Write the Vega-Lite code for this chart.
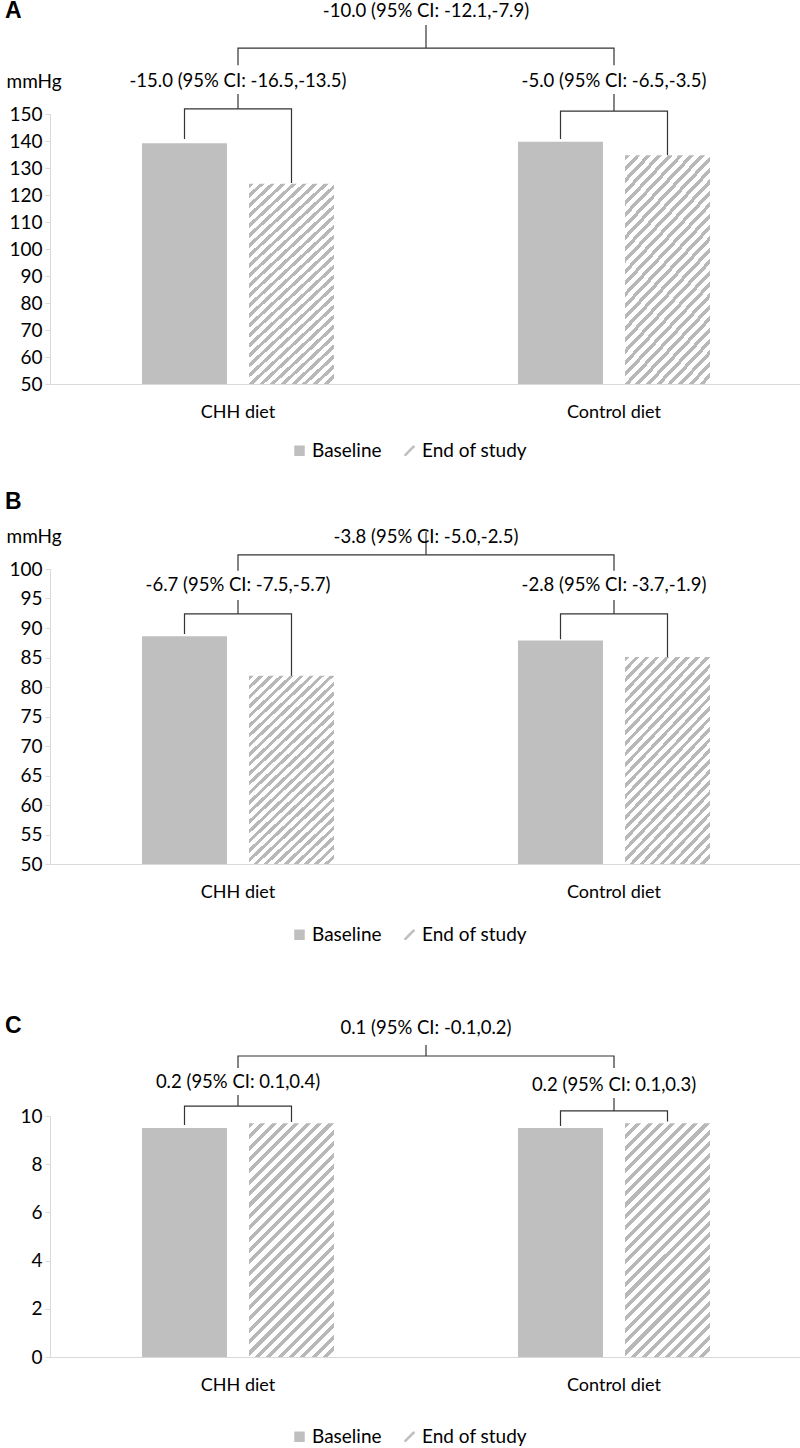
{
  "$schema": "https://vega.github.io/schema/vega-lite/v6.json",
  "padding": {"left": 5, "top": 0, "right": 0, "bottom": 0},
  "config": {
    "view": {"stroke": null},
    "font": "Lato",
    "axis": {"labelFont": "Lato", "labelFontSize": 19, "labelColor": "#000000", "domainColor": "#d9d9d9", "tickColor": "#d9d9d9", "grid": false, "titleFont": "Lato", "titleFontSize": 19, "titleFontWeight": "normal", "titleColor": "#000000", "labelOverlap": false},
    "axisY": {"tickSize": 5, "labelPadding": 3, "titleAngle": 0, "titleAlign": "left", "titleBaseline": "middle", "titleX": -44, "titleY": -33, "tickCount": 30, "format": "d"},
    "axisX": {"ticks": false, "tickSize": 0, "labelPadding": 19, "labelFontSize": 18, "labelAngle": 0, "labelBaseline": "top"},
    "legend": {"orient": "none", "direction": "horizontal", "labelFont": "Lato", "labelFontSize": 19, "labelColor": "#000000", "symbolSize": 110, "labelOffset": 3, "columnPadding": 18, "padding": 0, "symbolStrokeWidth": 0, "symbolOpacity": 1},
    "title": {"font": "Liberation Sans", "fontSize": 23, "fontWeight": "bold", "anchor": "start", "frame": "group", "offset": 0, "color": "#000000"},
    "text": {"font": "Lato", "fontSize": 18.5, "color": "#000000"}
  },
  "resolve": {"scale": {"fill": "independent"}, "legend": {"fill": "independent"}},
  "spacing": 70,
  "vconcat": [
    {
      "resolve": {"scale": {"fill": "independent"}, "legend": {"fill": "independent"}},
      "spacing": 30,
      "vconcat": [
        {
          "width": 752, "height": 270,
          "title": {"text": "A", "dx": -45, "dy": 25},
          "layer": [
            {
              "data": {"values": [
                {"group": "CHH diet", "period": "Baseline", "v": 139.2},
                {"group": "CHH diet", "period": "End of study", "v": 124.2},
                {"group": "Control diet", "period": "Baseline", "v": 139.7},
                {"group": "Control diet", "period": "End of study", "v": 134.7}
              ]},
              "mark": {"type": "bar", "opacity": 0},
              "encoding": {
                "x": {"field": "group", "type": "nominal", "title": null, "sort": ["CHH diet", "Control diet"], "scale": {"paddingInner": 0, "paddingOuter": 0}},
                "xOffset": {"field": "period", "type": "nominal", "sort": ["Baseline", "End of study"], "scale": {"paddingInner": 0.206, "paddingOuter": 0.86}},
                "y": {"field": "v", "type": "quantitative", "scale": {"domain": [50, 150], "nice": false, "zero": false}, "axis": {"values": [50, 60, 70, 80, 90, 100, 110, 120, 130, 140, 150], "tickCount": 30, "format": "d", "title": "mmHg", "labelOverlap": false}},
                "y2": {"datum": 50},
                "fill": {"field": "period", "type": "nominal", "scale": {"domain": ["Baseline", "End of study"], "range": ["#bfbfbf", "#bfbfbf"]},
                  "legend": {"title": null, "orient": "none", "legendX": 240, "legendY": 327, "encode": {"symbols": {"update": {"fill": {"value": "#bfbfbf"}, "opacity": {"value": 1}, "shape": {"signal": "datum.value === 'Baseline' ? 'square' : 'M-1,0.65L0.65,-1L1,-1L1,-0.65L-0.65,1L-1,1Z'"}}}}}}
              }
            },
            {
              "data": {"values": [
                {"group": "CHH diet", "period": "Baseline", "v": 139.2},
                {"group": "CHH diet", "period": "End of study", "v": 124.2},
                {"group": "Control diet", "period": "Baseline", "v": 139.7},
                {"group": "Control diet", "period": "End of study", "v": 134.7}
              ]},
              "mark": {"type": "bar"},
              "encoding": {
                "x": {"field": "group", "type": "nominal"},
                "xOffset": {"field": "period", "type": "nominal"},
                "y": {"field": "v", "type": "quantitative"},
                "y2": {"datum": 50},
                "fill": {"condition": {"test": "datum.period === 'Baseline'", "value": "#bfbfbf"}, "value": {"gradient": "linear", "x1": 0, "y1": 0, "x2": 0.4771, "y2": 1.2068, "stops": [
{"offset":0,"color":"#b8b8b8"},{"offset":0.0161,"color":"#b8b8b8"},{"offset":0.0161,"color":"#ffffff"},{"offset":0.0357,"color":"#ffffff"},
{"offset":0.0357,"color":"#b8b8b8"},{"offset":0.0518,"color":"#b8b8b8"},{"offset":0.0518,"color":"#ffffff"},{"offset":0.0714,"color":"#ffffff"},
{"offset":0.0714,"color":"#b8b8b8"},{"offset":0.0875,"color":"#b8b8b8"},{"offset":0.0875,"color":"#ffffff"},{"offset":0.1071,"color":"#ffffff"},
{"offset":0.1071,"color":"#b8b8b8"},{"offset":0.1232,"color":"#b8b8b8"},{"offset":0.1232,"color":"#ffffff"},{"offset":0.1429,"color":"#ffffff"},
{"offset":0.1429,"color":"#b8b8b8"},{"offset":0.1589,"color":"#b8b8b8"},{"offset":0.1589,"color":"#ffffff"},{"offset":0.1786,"color":"#ffffff"},
{"offset":0.1786,"color":"#b8b8b8"},{"offset":0.1946,"color":"#b8b8b8"},{"offset":0.1946,"color":"#ffffff"},{"offset":0.2143,"color":"#ffffff"},
{"offset":0.2143,"color":"#b8b8b8"},{"offset":0.2304,"color":"#b8b8b8"},{"offset":0.2304,"color":"#ffffff"},{"offset":0.25,"color":"#ffffff"},
{"offset":0.25,"color":"#b8b8b8"},{"offset":0.2661,"color":"#b8b8b8"},{"offset":0.2661,"color":"#ffffff"},{"offset":0.2857,"color":"#ffffff"},
{"offset":0.2857,"color":"#b8b8b8"},{"offset":0.3018,"color":"#b8b8b8"},{"offset":0.3018,"color":"#ffffff"},{"offset":0.3214,"color":"#ffffff"},
{"offset":0.3214,"color":"#b8b8b8"},{"offset":0.3375,"color":"#b8b8b8"},{"offset":0.3375,"color":"#ffffff"},{"offset":0.3571,"color":"#ffffff"},
{"offset":0.3571,"color":"#b8b8b8"},{"offset":0.3732,"color":"#b8b8b8"},{"offset":0.3732,"color":"#ffffff"},{"offset":0.3929,"color":"#ffffff"},
{"offset":0.3929,"color":"#b8b8b8"},{"offset":0.4089,"color":"#b8b8b8"},{"offset":0.4089,"color":"#ffffff"},{"offset":0.4286,"color":"#ffffff"},
{"offset":0.4286,"color":"#b8b8b8"},{"offset":0.4446,"color":"#b8b8b8"},{"offset":0.4446,"color":"#ffffff"},{"offset":0.4643,"color":"#ffffff"},
{"offset":0.4643,"color":"#b8b8b8"},{"offset":0.4804,"color":"#b8b8b8"},{"offset":0.4804,"color":"#ffffff"},{"offset":0.5,"color":"#ffffff"},
{"offset":0.5,"color":"#b8b8b8"},{"offset":0.5161,"color":"#b8b8b8"},{"offset":0.5161,"color":"#ffffff"},{"offset":0.5357,"color":"#ffffff"},
{"offset":0.5357,"color":"#b8b8b8"},{"offset":0.5518,"color":"#b8b8b8"},{"offset":0.5518,"color":"#ffffff"},{"offset":0.5714,"color":"#ffffff"},
{"offset":0.5714,"color":"#b8b8b8"},{"offset":0.5875,"color":"#b8b8b8"},{"offset":0.5875,"color":"#ffffff"},{"offset":0.6071,"color":"#ffffff"},
{"offset":0.6071,"color":"#b8b8b8"},{"offset":0.6232,"color":"#b8b8b8"},{"offset":0.6232,"color":"#ffffff"},{"offset":0.6429,"color":"#ffffff"},
{"offset":0.6429,"color":"#b8b8b8"},{"offset":0.6589,"color":"#b8b8b8"},{"offset":0.6589,"color":"#ffffff"},{"offset":0.6786,"color":"#ffffff"},
{"offset":0.6786,"color":"#b8b8b8"},{"offset":0.6946,"color":"#b8b8b8"},{"offset":0.6946,"color":"#ffffff"},{"offset":0.7143,"color":"#ffffff"},
{"offset":0.7143,"color":"#b8b8b8"},{"offset":0.7304,"color":"#b8b8b8"},{"offset":0.7304,"color":"#ffffff"},{"offset":0.75,"color":"#ffffff"},
{"offset":0.75,"color":"#b8b8b8"},{"offset":0.7661,"color":"#b8b8b8"},{"offset":0.7661,"color":"#ffffff"},{"offset":0.7857,"color":"#ffffff"},
{"offset":0.7857,"color":"#b8b8b8"},{"offset":0.8018,"color":"#b8b8b8"},{"offset":0.8018,"color":"#ffffff"},{"offset":0.8214,"color":"#ffffff"},
{"offset":0.8214,"color":"#b8b8b8"},{"offset":0.8375,"color":"#b8b8b8"},{"offset":0.8375,"color":"#ffffff"},{"offset":0.8571,"color":"#ffffff"},
{"offset":0.8571,"color":"#b8b8b8"},{"offset":0.8732,"color":"#b8b8b8"},{"offset":0.8732,"color":"#ffffff"},{"offset":0.8929,"color":"#ffffff"},
{"offset":0.8929,"color":"#b8b8b8"},{"offset":0.9089,"color":"#b8b8b8"},{"offset":0.9089,"color":"#ffffff"},{"offset":0.9286,"color":"#ffffff"},
{"offset":0.9286,"color":"#b8b8b8"},{"offset":0.9446,"color":"#b8b8b8"},{"offset":0.9446,"color":"#ffffff"},{"offset":0.9643,"color":"#ffffff"},
{"offset":0.9643,"color":"#b8b8b8"},{"offset":0.9804,"color":"#b8b8b8"},{"offset":0.9804,"color":"#ffffff"},{"offset":1,"color":"#ffffff"}
                ]}}
              }
            },
            {
              "data": {"values": [
                {"id": "CHH", "group": "CHH diet", "period": "Baseline", "v": 140.7, "o": 1},
                {"id": "CHH", "group": "CHH diet", "period": "Baseline", "v": 151.9, "o": 2},
                {"id": "CHH", "group": "CHH diet", "period": "End of study", "v": 151.9, "o": 3},
                {"id": "CHH", "group": "CHH diet", "period": "End of study", "v": 124.4, "o": 4},
                {"id": "Control", "group": "Control diet", "period": "Baseline", "v": 140.7, "o": 1},
                {"id": "Control", "group": "Control diet", "period": "Baseline", "v": 151.1, "o": 2},
                {"id": "Control", "group": "Control diet", "period": "End of study", "v": 151.1, "o": 3},
                {"id": "Control", "group": "Control diet", "period": "End of study", "v": 134.7, "o": 4}
              ]},
              "mark": {"type": "line", "color": "#333333", "strokeWidth": 1.2},
              "encoding": {
                "x": {"field": "group", "type": "nominal"},
                "xOffset": {"field": "period", "type": "nominal"},
                "y": {"field": "v", "type": "quantitative"},
                "detail": {"field": "id"},
                "order": {"field": "o", "type": "quantitative"}
              }
            },
            {
              "data": {"values": [
                {"group": "CHH diet", "v": 168.1, "o": 1},
                {"group": "CHH diet", "v": 174.4, "o": 2},
                {"group": "Control diet", "v": 174.4, "o": 3},
                {"group": "Control diet", "v": 168.1, "o": 4}
              ]},
              "mark": {"type": "line", "color": "#333333", "strokeWidth": 1.2},
              "encoding": {
                "x": {"field": "group", "type": "nominal"},
                "y": {"field": "v", "type": "quantitative"},
                "order": {"field": "o", "type": "quantitative"}
              }
            },
            {
              "data": {"values": [
                {"group": "CHH diet", "v": 151.9, "v2": 157.4},
                {"group": "Control diet", "v": 151.1, "v2": 157.4}
              ]},
              "mark": {"type": "rule", "color": "#333333", "strokeWidth": 1.2},
              "encoding": {
                "x": {"field": "group", "type": "nominal"},
                "y": {"field": "v", "type": "quantitative"},
                "y2": {"field": "v2"}
              }
            },
            {
              "data": {"values": [
                {"group": "CHH diet", "v": 174.4, "v2": 183.0}
              ]},
              "mark": {"type": "rule", "color": "#333333", "strokeWidth": 1.2},
              "encoding": {
                "x": {"field": "group", "type": "nominal", "bandPosition": 1},
                "y": {"field": "v", "type": "quantitative"},
                "y2": {"field": "v2"}
              }
            },
            {
              "data": {"values": [
                {"group": "CHH diet", "v": 162.2, "label": "-15.0 (95% CI: -16.5,-13.5)"},
                {"group": "Control diet", "v": 162.2, "label": "-5.0 (95% CI: -6.5,-3.5)"}
              ]},
              "mark": {"type": "text"},
              "encoding": {
                "x": {"field": "group", "type": "nominal"},
                "y": {"field": "v", "type": "quantitative"},
                "text": {"field": "label"}
              }
            },
            {
              "data": {"values": [
                {"group": "CHH diet", "v": 188.1, "label": "-10.0 (95% CI: -12.1,-7.9)"}
              ]},
              "mark": {"type": "text"},
              "encoding": {
                "x": {"field": "group", "type": "nominal", "bandPosition": 1},
                "y": {"field": "v", "type": "quantitative"},
                "text": {"field": "label"}
              }
            }
          ]
        },
        {
          "width": 752, "height": 295,
          "title": {"text": "B", "dx": -45, "dy": -9},
          "layer": [
            {
              "data": {"values": [
                {"group": "CHH diet", "period": "Baseline", "v": 88.6},
                {"group": "CHH diet", "period": "End of study", "v": 81.9},
                {"group": "Control diet", "period": "Baseline", "v": 87.9},
                {"group": "Control diet", "period": "End of study", "v": 85.1}
              ]},
              "mark": {"type": "bar", "opacity": 0},
              "encoding": {
                "x": {"field": "group", "type": "nominal", "title": null, "sort": ["CHH diet", "Control diet"], "scale": {"paddingInner": 0, "paddingOuter": 0}},
                "xOffset": {"field": "period", "type": "nominal", "sort": ["Baseline", "End of study"], "scale": {"paddingInner": 0.206, "paddingOuter": 0.86}},
                "y": {"field": "v", "type": "quantitative", "scale": {"domain": [50, 100], "nice": false, "zero": false}, "axis": {"values": [50, 55, 60, 65, 70, 75, 80, 85, 90, 95, 100], "tickCount": 30, "format": "d", "title": "mmHg", "labelOverlap": false}},
                "y2": {"datum": 50},
                "fill": {"field": "period", "type": "nominal", "scale": {"domain": ["Baseline", "End of study"], "range": ["#bfbfbf", "#bfbfbf"]},
                  "legend": {"title": null, "orient": "none", "legendX": 240, "legendY": 356, "encode": {"symbols": {"update": {"fill": {"value": "#bfbfbf"}, "opacity": {"value": 1}, "shape": {"signal": "datum.value === 'Baseline' ? 'square' : 'M-1,0.65L0.65,-1L1,-1L1,-0.65L-0.65,1L-1,1Z'"}}}}}}
              }
            },
            {
              "data": {"values": [
                {"group": "CHH diet", "period": "Baseline", "v": 88.6},
                {"group": "CHH diet", "period": "End of study", "v": 81.9},
                {"group": "Control diet", "period": "Baseline", "v": 87.9},
                {"group": "Control diet", "period": "End of study", "v": 85.1}
              ]},
              "mark": {"type": "bar"},
              "encoding": {
                "x": {"field": "group", "type": "nominal"},
                "xOffset": {"field": "period", "type": "nominal"},
                "y": {"field": "v", "type": "quantitative"},
                "y2": {"datum": 50},
                "fill": {"condition": {"test": "datum.period === 'Baseline'", "value": "#bfbfbf"}, "value": {"gradient": "linear", "x1": 0, "y1": 0, "x2": 0.518, "y2": 1.2068, "stops": [
{"offset":0,"color":"#b8b8b8"},{"offset":0.0161,"color":"#b8b8b8"},{"offset":0.0161,"color":"#ffffff"},{"offset":0.0357,"color":"#ffffff"},
{"offset":0.0357,"color":"#b8b8b8"},{"offset":0.0518,"color":"#b8b8b8"},{"offset":0.0518,"color":"#ffffff"},{"offset":0.0714,"color":"#ffffff"},
{"offset":0.0714,"color":"#b8b8b8"},{"offset":0.0875,"color":"#b8b8b8"},{"offset":0.0875,"color":"#ffffff"},{"offset":0.1071,"color":"#ffffff"},
{"offset":0.1071,"color":"#b8b8b8"},{"offset":0.1232,"color":"#b8b8b8"},{"offset":0.1232,"color":"#ffffff"},{"offset":0.1429,"color":"#ffffff"},
{"offset":0.1429,"color":"#b8b8b8"},{"offset":0.1589,"color":"#b8b8b8"},{"offset":0.1589,"color":"#ffffff"},{"offset":0.1786,"color":"#ffffff"},
{"offset":0.1786,"color":"#b8b8b8"},{"offset":0.1946,"color":"#b8b8b8"},{"offset":0.1946,"color":"#ffffff"},{"offset":0.2143,"color":"#ffffff"},
{"offset":0.2143,"color":"#b8b8b8"},{"offset":0.2304,"color":"#b8b8b8"},{"offset":0.2304,"color":"#ffffff"},{"offset":0.25,"color":"#ffffff"},
{"offset":0.25,"color":"#b8b8b8"},{"offset":0.2661,"color":"#b8b8b8"},{"offset":0.2661,"color":"#ffffff"},{"offset":0.2857,"color":"#ffffff"},
{"offset":0.2857,"color":"#b8b8b8"},{"offset":0.3018,"color":"#b8b8b8"},{"offset":0.3018,"color":"#ffffff"},{"offset":0.3214,"color":"#ffffff"},
{"offset":0.3214,"color":"#b8b8b8"},{"offset":0.3375,"color":"#b8b8b8"},{"offset":0.3375,"color":"#ffffff"},{"offset":0.3571,"color":"#ffffff"},
{"offset":0.3571,"color":"#b8b8b8"},{"offset":0.3732,"color":"#b8b8b8"},{"offset":0.3732,"color":"#ffffff"},{"offset":0.3929,"color":"#ffffff"},
{"offset":0.3929,"color":"#b8b8b8"},{"offset":0.4089,"color":"#b8b8b8"},{"offset":0.4089,"color":"#ffffff"},{"offset":0.4286,"color":"#ffffff"},
{"offset":0.4286,"color":"#b8b8b8"},{"offset":0.4446,"color":"#b8b8b8"},{"offset":0.4446,"color":"#ffffff"},{"offset":0.4643,"color":"#ffffff"},
{"offset":0.4643,"color":"#b8b8b8"},{"offset":0.4804,"color":"#b8b8b8"},{"offset":0.4804,"color":"#ffffff"},{"offset":0.5,"color":"#ffffff"},
{"offset":0.5,"color":"#b8b8b8"},{"offset":0.5161,"color":"#b8b8b8"},{"offset":0.5161,"color":"#ffffff"},{"offset":0.5357,"color":"#ffffff"},
{"offset":0.5357,"color":"#b8b8b8"},{"offset":0.5518,"color":"#b8b8b8"},{"offset":0.5518,"color":"#ffffff"},{"offset":0.5714,"color":"#ffffff"},
{"offset":0.5714,"color":"#b8b8b8"},{"offset":0.5875,"color":"#b8b8b8"},{"offset":0.5875,"color":"#ffffff"},{"offset":0.6071,"color":"#ffffff"},
{"offset":0.6071,"color":"#b8b8b8"},{"offset":0.6232,"color":"#b8b8b8"},{"offset":0.6232,"color":"#ffffff"},{"offset":0.6429,"color":"#ffffff"},
{"offset":0.6429,"color":"#b8b8b8"},{"offset":0.6589,"color":"#b8b8b8"},{"offset":0.6589,"color":"#ffffff"},{"offset":0.6786,"color":"#ffffff"},
{"offset":0.6786,"color":"#b8b8b8"},{"offset":0.6946,"color":"#b8b8b8"},{"offset":0.6946,"color":"#ffffff"},{"offset":0.7143,"color":"#ffffff"},
{"offset":0.7143,"color":"#b8b8b8"},{"offset":0.7304,"color":"#b8b8b8"},{"offset":0.7304,"color":"#ffffff"},{"offset":0.75,"color":"#ffffff"},
{"offset":0.75,"color":"#b8b8b8"},{"offset":0.7661,"color":"#b8b8b8"},{"offset":0.7661,"color":"#ffffff"},{"offset":0.7857,"color":"#ffffff"},
{"offset":0.7857,"color":"#b8b8b8"},{"offset":0.8018,"color":"#b8b8b8"},{"offset":0.8018,"color":"#ffffff"},{"offset":0.8214,"color":"#ffffff"},
{"offset":0.8214,"color":"#b8b8b8"},{"offset":0.8375,"color":"#b8b8b8"},{"offset":0.8375,"color":"#ffffff"},{"offset":0.8571,"color":"#ffffff"},
{"offset":0.8571,"color":"#b8b8b8"},{"offset":0.8732,"color":"#b8b8b8"},{"offset":0.8732,"color":"#ffffff"},{"offset":0.8929,"color":"#ffffff"},
{"offset":0.8929,"color":"#b8b8b8"},{"offset":0.9089,"color":"#b8b8b8"},{"offset":0.9089,"color":"#ffffff"},{"offset":0.9286,"color":"#ffffff"},
{"offset":0.9286,"color":"#b8b8b8"},{"offset":0.9446,"color":"#b8b8b8"},{"offset":0.9446,"color":"#ffffff"},{"offset":0.9643,"color":"#ffffff"},
{"offset":0.9643,"color":"#b8b8b8"},{"offset":0.9804,"color":"#b8b8b8"},{"offset":0.9804,"color":"#ffffff"},{"offset":1,"color":"#ffffff"}
                ]}}
              }
            },
            {
              "data": {"values": [
                {"id": "CHH", "group": "CHH diet", "period": "Baseline", "v": 89.0, "o": 1},
                {"id": "CHH", "group": "CHH diet", "period": "Baseline", "v": 92.4, "o": 2},
                {"id": "CHH", "group": "CHH diet", "period": "End of study", "v": 92.4, "o": 3},
                {"id": "CHH", "group": "CHH diet", "period": "End of study", "v": 81.9, "o": 4},
                {"id": "Control", "group": "Control diet", "period": "Baseline", "v": 88.1, "o": 1},
                {"id": "Control", "group": "Control diet", "period": "Baseline", "v": 92.4, "o": 2},
                {"id": "Control", "group": "Control diet", "period": "End of study", "v": 92.4, "o": 3},
                {"id": "Control", "group": "Control diet", "period": "End of study", "v": 85.1, "o": 4}
              ]},
              "mark": {"type": "line", "color": "#333333", "strokeWidth": 1.2},
              "encoding": {
                "x": {"field": "group", "type": "nominal"},
                "xOffset": {"field": "period", "type": "nominal"},
                "y": {"field": "v", "type": "quantitative"},
                "detail": {"field": "id"},
                "order": {"field": "o", "type": "quantitative"}
              }
            },
            {
              "data": {"values": [
                {"group": "CHH diet", "v": 99.7, "o": 1},
                {"group": "CHH diet", "v": 102.4, "o": 2},
                {"group": "Control diet", "v": 102.4, "o": 3},
                {"group": "Control diet", "v": 99.7, "o": 4}
              ]},
              "mark": {"type": "line", "color": "#333333", "strokeWidth": 1.2},
              "encoding": {
                "x": {"field": "group", "type": "nominal"},
                "y": {"field": "v", "type": "quantitative"},
                "order": {"field": "o", "type": "quantitative"}
              }
            },
            {
              "data": {"values": [
                {"group": "CHH diet", "v": 92.4, "v2": 94.75},
                {"group": "Control diet", "v": 92.4, "v2": 94.75}
              ]},
              "mark": {"type": "rule", "color": "#333333", "strokeWidth": 1.2},
              "encoding": {
                "x": {"field": "group", "type": "nominal"},
                "y": {"field": "v", "type": "quantitative"},
                "y2": {"field": "v2"}
              }
            },
            {
              "data": {"values": [
                {"group": "CHH diet", "v": 102.4, "v2": 106.3}
              ]},
              "mark": {"type": "rule", "color": "#333333", "strokeWidth": 1.2},
              "encoding": {
                "x": {"field": "group", "type": "nominal", "bandPosition": 1},
                "y": {"field": "v", "type": "quantitative"},
                "y2": {"field": "v2"}
              }
            },
            {
              "data": {"values": [
                {"group": "CHH diet", "v": 97.3, "label": "-6.7 (95% CI: -7.5,-5.7)"},
                {"group": "Control diet", "v": 97.3, "label": "-2.8 (95% CI: -3.7,-1.9)"}
              ]},
              "mark": {"type": "text"},
              "encoding": {
                "x": {"field": "group", "type": "nominal"},
                "y": {"field": "v", "type": "quantitative"},
                "text": {"field": "label"}
              }
            },
            {
              "data": {"values": [
                {"group": "CHH diet", "v": 105.4, "label": "-3.8 (95% CI: -5.0,-2.5)"}
              ]},
              "mark": {"type": "text"},
              "encoding": {
                "x": {"field": "group", "type": "nominal", "bandPosition": 1},
                "y": {"field": "v", "type": "quantitative"},
                "text": {"field": "label"}
              }
            }
          ]
        }
      ]
    },
    {
      "width": 752, "height": 241,
      "title": {"text": "C", "dx": -45, "dy": 23},
      "layer": [
        {
          "data": {"values": [
            {"group": "CHH diet", "period": "Baseline", "v": 9.5},
            {"group": "CHH diet", "period": "End of study", "v": 9.7},
            {"group": "Control diet", "period": "Baseline", "v": 9.5},
            {"group": "Control diet", "period": "End of study", "v": 9.7}
          ]},
          "mark": {"type": "bar", "opacity": 0},
          "encoding": {
            "x": {"field": "group", "type": "nominal", "title": null, "sort": ["CHH diet", "Control diet"], "scale": {"paddingInner": 0, "paddingOuter": 0}},
            "xOffset": {"field": "period", "type": "nominal", "sort": ["Baseline", "End of study"], "scale": {"paddingInner": 0.206, "paddingOuter": 0.86}},
            "y": {"field": "v", "type": "quantitative", "scale": {"domain": [0, 10], "nice": false}, "axis": {"values": [0, 2, 4, 6, 8, 10], "tickCount": 30, "format": "d", "title": null, "labelOverlap": false}},
            "fill": {"field": "period", "type": "nominal", "scale": {"domain": ["Baseline", "End of study"], "range": ["#bfbfbf", "#bfbfbf"]},
              "legend": {"title": null, "orient": "none", "legendX": 240, "legendY": 311, "encode": {"symbols": {"update": {"fill": {"value": "#bfbfbf"}, "opacity": {"value": 1}, "shape": {"signal": "datum.value === 'Baseline' ? 'square' : 'M-1,0.65L0.65,-1L1,-1L1,-0.65L-0.65,1L-1,1Z'"}}}}}}
          }
        },
        {
          "data": {"values": [
            {"group": "CHH diet", "period": "Baseline", "v": 9.5},
            {"group": "CHH diet", "period": "End of study", "v": 9.7},
            {"group": "Control diet", "period": "Baseline", "v": 9.5},
            {"group": "Control diet", "period": "End of study", "v": 9.7}
          ]},
          "mark": {"type": "bar"},
          "encoding": {
            "x": {"field": "group", "type": "nominal"},
            "xOffset": {"field": "period", "type": "nominal"},
            "y": {"field": "v", "type": "quantitative"},
            "fill": {"condition": {"test": "datum.period === 'Baseline'", "value": "#bfbfbf"}, "value": {"gradient": "linear", "x1": 0, "y1": 0, "x2": 0.4375, "y2": 1.2044, "stops": [
{"offset":0,"color":"#b8b8b8"},{"offset":0.0161,"color":"#b8b8b8"},{"offset":0.0161,"color":"#ffffff"},{"offset":0.0357,"color":"#ffffff"},
{"offset":0.0357,"color":"#b8b8b8"},{"offset":0.0518,"color":"#b8b8b8"},{"offset":0.0518,"color":"#ffffff"},{"offset":0.0714,"color":"#ffffff"},
{"offset":0.0714,"color":"#b8b8b8"},{"offset":0.0875,"color":"#b8b8b8"},{"offset":0.0875,"color":"#ffffff"},{"offset":0.1071,"color":"#ffffff"},
{"offset":0.1071,"color":"#b8b8b8"},{"offset":0.1232,"color":"#b8b8b8"},{"offset":0.1232,"color":"#ffffff"},{"offset":0.1429,"color":"#ffffff"},
{"offset":0.1429,"color":"#b8b8b8"},{"offset":0.1589,"color":"#b8b8b8"},{"offset":0.1589,"color":"#ffffff"},{"offset":0.1786,"color":"#ffffff"},
{"offset":0.1786,"color":"#b8b8b8"},{"offset":0.1946,"color":"#b8b8b8"},{"offset":0.1946,"color":"#ffffff"},{"offset":0.2143,"color":"#ffffff"},
{"offset":0.2143,"color":"#b8b8b8"},{"offset":0.2304,"color":"#b8b8b8"},{"offset":0.2304,"color":"#ffffff"},{"offset":0.25,"color":"#ffffff"},
{"offset":0.25,"color":"#b8b8b8"},{"offset":0.2661,"color":"#b8b8b8"},{"offset":0.2661,"color":"#ffffff"},{"offset":0.2857,"color":"#ffffff"},
{"offset":0.2857,"color":"#b8b8b8"},{"offset":0.3018,"color":"#b8b8b8"},{"offset":0.3018,"color":"#ffffff"},{"offset":0.3214,"color":"#ffffff"},
{"offset":0.3214,"color":"#b8b8b8"},{"offset":0.3375,"color":"#b8b8b8"},{"offset":0.3375,"color":"#ffffff"},{"offset":0.3571,"color":"#ffffff"},
{"offset":0.3571,"color":"#b8b8b8"},{"offset":0.3732,"color":"#b8b8b8"},{"offset":0.3732,"color":"#ffffff"},{"offset":0.3929,"color":"#ffffff"},
{"offset":0.3929,"color":"#b8b8b8"},{"offset":0.4089,"color":"#b8b8b8"},{"offset":0.4089,"color":"#ffffff"},{"offset":0.4286,"color":"#ffffff"},
{"offset":0.4286,"color":"#b8b8b8"},{"offset":0.4446,"color":"#b8b8b8"},{"offset":0.4446,"color":"#ffffff"},{"offset":0.4643,"color":"#ffffff"},
{"offset":0.4643,"color":"#b8b8b8"},{"offset":0.4804,"color":"#b8b8b8"},{"offset":0.4804,"color":"#ffffff"},{"offset":0.5,"color":"#ffffff"},
{"offset":0.5,"color":"#b8b8b8"},{"offset":0.5161,"color":"#b8b8b8"},{"offset":0.5161,"color":"#ffffff"},{"offset":0.5357,"color":"#ffffff"},
{"offset":0.5357,"color":"#b8b8b8"},{"offset":0.5518,"color":"#b8b8b8"},{"offset":0.5518,"color":"#ffffff"},{"offset":0.5714,"color":"#ffffff"},
{"offset":0.5714,"color":"#b8b8b8"},{"offset":0.5875,"color":"#b8b8b8"},{"offset":0.5875,"color":"#ffffff"},{"offset":0.6071,"color":"#ffffff"},
{"offset":0.6071,"color":"#b8b8b8"},{"offset":0.6232,"color":"#b8b8b8"},{"offset":0.6232,"color":"#ffffff"},{"offset":0.6429,"color":"#ffffff"},
{"offset":0.6429,"color":"#b8b8b8"},{"offset":0.6589,"color":"#b8b8b8"},{"offset":0.6589,"color":"#ffffff"},{"offset":0.6786,"color":"#ffffff"},
{"offset":0.6786,"color":"#b8b8b8"},{"offset":0.6946,"color":"#b8b8b8"},{"offset":0.6946,"color":"#ffffff"},{"offset":0.7143,"color":"#ffffff"},
{"offset":0.7143,"color":"#b8b8b8"},{"offset":0.7304,"color":"#b8b8b8"},{"offset":0.7304,"color":"#ffffff"},{"offset":0.75,"color":"#ffffff"},
{"offset":0.75,"color":"#b8b8b8"},{"offset":0.7661,"color":"#b8b8b8"},{"offset":0.7661,"color":"#ffffff"},{"offset":0.7857,"color":"#ffffff"},
{"offset":0.7857,"color":"#b8b8b8"},{"offset":0.8018,"color":"#b8b8b8"},{"offset":0.8018,"color":"#ffffff"},{"offset":0.8214,"color":"#ffffff"},
{"offset":0.8214,"color":"#b8b8b8"},{"offset":0.8375,"color":"#b8b8b8"},{"offset":0.8375,"color":"#ffffff"},{"offset":0.8571,"color":"#ffffff"},
{"offset":0.8571,"color":"#b8b8b8"},{"offset":0.8732,"color":"#b8b8b8"},{"offset":0.8732,"color":"#ffffff"},{"offset":0.8929,"color":"#ffffff"},
{"offset":0.8929,"color":"#b8b8b8"},{"offset":0.9089,"color":"#b8b8b8"},{"offset":0.9089,"color":"#ffffff"},{"offset":0.9286,"color":"#ffffff"},
{"offset":0.9286,"color":"#b8b8b8"},{"offset":0.9446,"color":"#b8b8b8"},{"offset":0.9446,"color":"#ffffff"},{"offset":0.9643,"color":"#ffffff"},
{"offset":0.9643,"color":"#b8b8b8"},{"offset":0.9804,"color":"#b8b8b8"},{"offset":0.9804,"color":"#ffffff"},{"offset":1,"color":"#ffffff"}
            ]}}
          }
        },
        {
          "data": {"values": [
            {"id": "CHH", "group": "CHH diet", "period": "Baseline", "v": 9.63, "o": 1},
            {"id": "CHH", "group": "CHH diet", "period": "Baseline", "v": 10.41, "o": 2},
            {"id": "CHH", "group": "CHH diet", "period": "End of study", "v": 10.41, "o": 3},
            {"id": "CHH", "group": "CHH diet", "period": "End of study", "v": 9.75, "o": 4},
            {"id": "Control", "group": "Control diet", "period": "Baseline", "v": 9.59, "o": 1},
            {"id": "Control", "group": "Control diet", "period": "Baseline", "v": 10.21, "o": 2},
            {"id": "Control", "group": "Control diet", "period": "End of study", "v": 10.21, "o": 3},
            {"id": "Control", "group": "Control diet", "period": "End of study", "v": 9.77, "o": 4}
          ]},
          "mark": {"type": "line", "color": "#333333", "strokeWidth": 1.2},
          "encoding": {
            "x": {"field": "group", "type": "nominal"},
            "xOffset": {"field": "period", "type": "nominal"},
            "y": {"field": "v", "type": "quantitative"},
            "detail": {"field": "id"},
            "order": {"field": "o", "type": "quantitative"}
          }
        },
        {
          "data": {"values": [
            {"group": "CHH diet", "v": 11.99, "o": 1},
            {"group": "CHH diet", "v": 12.49, "o": 2},
            {"group": "Control diet", "v": 12.49, "o": 3},
            {"group": "Control diet", "v": 11.99, "o": 4}
          ]},
          "mark": {"type": "line", "color": "#333333", "strokeWidth": 1.2},
          "encoding": {
            "x": {"field": "group", "type": "nominal"},
            "y": {"field": "v", "type": "quantitative"},
            "order": {"field": "o", "type": "quantitative"}
          }
        },
        {
          "data": {"values": [
            {"group": "CHH diet", "v": 10.41, "v2": 10.87},
            {"group": "Control diet", "v": 10.21, "v2": 10.75}
          ]},
          "mark": {"type": "rule", "color": "#333333", "strokeWidth": 1.2},
          "encoding": {
            "x": {"field": "group", "type": "nominal"},
            "y": {"field": "v", "type": "quantitative"},
            "y2": {"field": "v2"}
          }
        },
        {
          "data": {"values": [
            {"group": "CHH diet", "v": 12.49, "v2": 12.95}
          ]},
          "mark": {"type": "rule", "color": "#333333", "strokeWidth": 1.2},
          "encoding": {
            "x": {"field": "group", "type": "nominal", "bandPosition": 1},
            "y": {"field": "v", "type": "quantitative"},
            "y2": {"field": "v2"}
          }
        },
        {
          "data": {"values": [
            {"group": "CHH diet", "v": 11.41, "label": "0.2 (95% CI: 0.1,0.4)"},
            {"group": "Control diet", "v": 11.29, "label": "0.2 (95% CI: 0.1,0.3)"}
          ]},
          "mark": {"type": "text"},
          "encoding": {
            "x": {"field": "group", "type": "nominal"},
            "y": {"field": "v", "type": "quantitative"},
            "text": {"field": "label"}
          }
        },
        {
          "data": {"values": [
            {"group": "CHH diet", "v": 13.65, "label": "0.1 (95% CI: -0.1,0.2)"}
          ]},
          "mark": {"type": "text"},
          "encoding": {
            "x": {"field": "group", "type": "nominal", "bandPosition": 1},
            "y": {"field": "v", "type": "quantitative"},
            "text": {"field": "label"}
          }
        }
      ]
    }
  ]
}
